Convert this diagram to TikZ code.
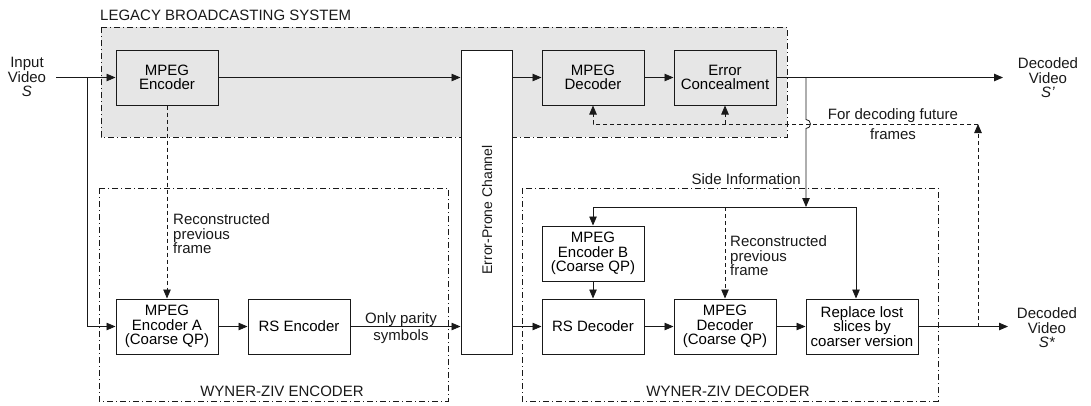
\documentclass[tikz,border=0pt]{standalone}
\usepackage{fontspec}
\setmainfont{Liberation Sans}
\usetikzlibrary{arrows.meta}
\definecolor{legacygray}{RGB}{230,230,230}
\definecolor{ink}{RGB}{25,25,25}
\begin{document}
\begin{tikzpicture}[x=1pt,y=-1pt,
  font=\fontsize{15}{14.5}\selectfont,
  blk/.style={draw=ink, line width=1pt, minimum width=102pt, minimum height=55pt, align=center, inner sep=1pt},
  grp/.style={draw=ink, line width=0.8pt, dash pattern=on 6pt off 3pt on 1pt off 3pt},
  arr/.style={draw=ink, -{Triangle[length=9pt,width=7.5pt]}, line width=0.8pt},
  darr/.style={arr, dash pattern=on 4pt off 3pt},
  dln/.style={draw=ink, line width=0.8pt, dash pattern=on 4pt off 3pt},
  lbl/.style={align=center, inner sep=0pt, text=ink},
]
\useasboundingbox (0,0) rectangle (1091,405);
% groups
\path[grp, fill=legacygray] (101,27) rectangle (787,137);
\path[grp] (99,188) rectangle (448,401);
\path[grp] (522,188) rectangle (938,401);
\node[lbl, anchor=west] (lgtitle) at (100,15) {LEGACY BROADCASTING SYSTEM};
\node[lbl] (wzetitle) at (282,391) {WYNER-ZIV ENCODER};
\node[lbl] (wzdtitle) at (728,391) {WYNER-ZIV DECODER};
% blocks
\node[blk, fill=legacygray] (enc) at (167,77.5) {MPEG\\Encoder};
\node[blk, fill=legacygray] (mdec) at (593,77.5) {MPEG\\Decoder};
\node[blk, fill=legacygray] (ec) at (725,77.5) {Error\\Concealment};
\node[blk, fill=white, minimum width=51pt, minimum height=304pt] (chan) at (486.5,202) {};
\node[lbl, rotate=90, font=\fontsize{14}{14}\selectfont] (chanlbl) at (487,210) {Error-Prone Channel};
\node[blk] (encA) at (167,326.5) {MPEG\\Encoder A\\(Coarse QP)};
\node[blk] (rsenc) at (299,326.5) {RS Encoder};
\node[blk] (rsdec) at (593,326.5) {RS Decoder};
\node[blk] (encB) at (593,253.5) {MPEG\\Encoder B\\(Coarse QP)};
\node[blk] (mdec2) at (725,326.5) {MPEG\\Decoder\\(Coarse QP)};
\node[blk, minimum width=112pt] (repl) at (862,326.5) {Replace lost\\slices by\\coarser version};
% terminal labels
\node[lbl] (inlbl) at (27,77) {Input\\Video\\\textit{S}};
\node[lbl] (out1lbl) at (1048,78) {Decoded\\Video\\\textit{S'}};
\node[lbl] (out2lbl) at (1047,328) {Decoded\\Video\\\textit{S*}};
% coordinates
\coordinate (inS) at (56,77.5);
\coordinate (br) at (87,77.5);
\coordinate (out1) at (1003,77.5);
\coordinate (out2) at (1008,326.5);
\coordinate (tap) at (806,77.5);
\coordinate (si) at (806,207);
\coordinate (siL) at (593,207);
\coordinate (siR) at (856,207);
\coordinate (fbB) at (978,326.5);
\coordinate (fbT) at (978,124);
% top path
\draw[arr] (inS) -- (enc.west);
\draw[arr] (br) |- (encA.west);
\draw[arr] (enc.east) -- (enc.east -| chan.west);
\draw[arr] (mdec.west -| chan.east) -- (mdec.west);
\draw[arr] (mdec.east) -- (ec.west);
\draw[arr] (ec.east) -- (out1);
% bottom path
\draw[arr] (encA.east) -- (rsenc.west);
\draw[arr] (rsenc.east) -- (rsenc.east -| chan.west);
\draw[arr] (rsdec.west -| chan.east) -- (rsdec.west);
\draw[arr] (encB.south) -- (rsdec.north);
\draw[arr] (rsdec.east) -- (mdec2.west);
\draw[arr] (mdec2.east) -- (repl.west);
\draw[arr] (repl.east) -- (out2);
% side information
\draw[arr] (tap) -- (806,119.5) arc[start angle=90, end angle=-90, radius=4.5pt] -- (si);
\draw[draw=ink, line width=0.8pt] (siL) -- (siR);
\draw[arr] (siL) -- (encB.north);
\draw[arr] (siR) -- (siR |- repl.north);
\draw[darr] (si -| mdec2.north) -- (mdec2.north);
\node[lbl, anchor=east] (silbl) at (801,179) {Side Information};
% reconstructed previous frame (encoder)
\draw[darr] (enc.south) -- (encA.north);
\node[lbl, align=left, anchor=west] (rpf1) at (173,234) {Reconstructed\\previous\\frame};
\node[lbl, align=left, anchor=west] (rpf2) at (730,256) {Reconstructed\\previous\\frame};
% parity label
\node[lbl] (parity) at (401,328) {Only parity\\[3pt]symbols};
% feedback
\draw[darr] (fbB) -- (fbT);
\draw[darr] (fbT) -| (mdec.south);
\draw[darr] (ec.south |- fbT) -- (ec.south);
\node[lbl] (futlbl) at (893,124) {For decoding future\\[5.5pt]frames};
\end{tikzpicture}
\end{document}
